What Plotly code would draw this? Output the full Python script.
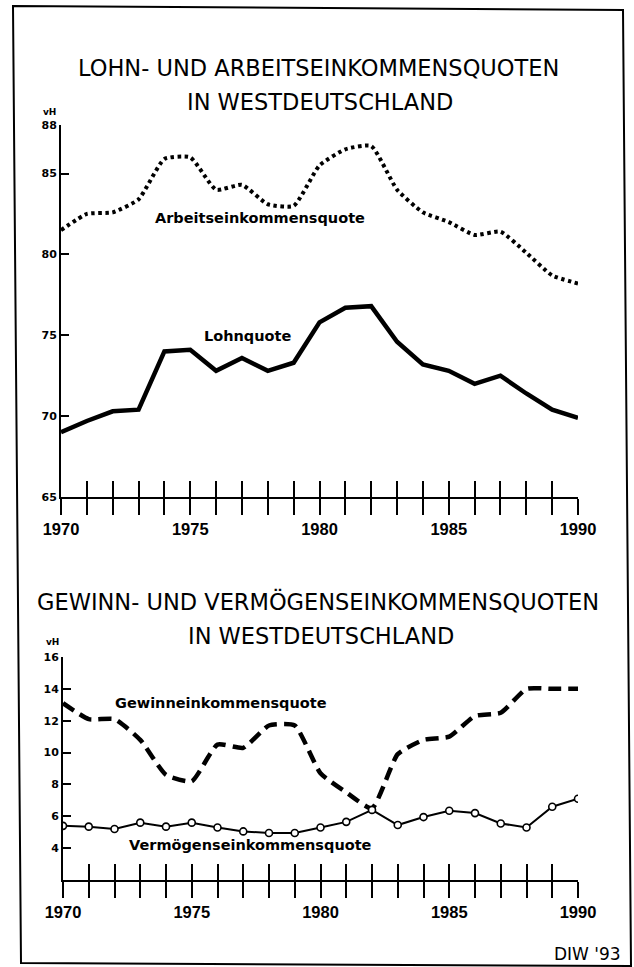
import plotly.graph_objects as go

# ---------------- data ----------------
years = list(range(1970, 1991))
x_labels = [str(y) if y % 5 == 0 else "" for y in years]

lohnquote = [69.0, 69.7, 70.3, 70.4, 74.0, 74.1, 72.8, 73.6, 72.8, 73.3,
             75.8, 76.7, 76.8, 74.6, 73.2, 72.8, 72.0, 72.5, 71.4, 70.4, 69.9]
arbeitseinkommensquote = [81.5, 82.5, 82.6, 83.4, 85.9, 86.0, 84.0, 84.3, 83.1, 83.0,
                          85.5, 86.5, 86.7, 84.0, 82.6, 82.0, 81.2, 81.4, 80.1, 78.7, 78.2]
gewinneinkommensquote = [13.1, 12.1, 12.1, 10.8, 8.6, 8.2, 10.5, 10.3, 11.7, 11.7,
                         8.7, 7.5, 6.5, 9.9, 10.8, 11.0, 12.3, 12.5, 14.0, 14.0, 14.0]
vermoegenseinkommensquote = [5.4, 5.35, 5.2, 5.6, 5.35, 5.6, 5.3, 5.05, 4.95, 4.95,
                             5.3, 5.65, 6.4, 5.45, 5.95, 6.35, 6.2, 5.55, 5.3, 6.6, 7.1]

top_yticks = [65, 70, 75, 80, 85, 88]
bottom_yticks = [4, 6, 8, 10, 12, 14, 16]

title_top = ["LOHN- UND ARBEITSEINKOMMENSQUOTEN", "IN WESTDEUTSCHLAND"]
title_bottom = ["GEWINN- UND VERMÖGENSEINKOMMENSQUOTEN", "IN WESTDEUTSCHLAND"]
unit_label = "vH"
source_label = "DIW '93"

# ---------------- layout helpers ----------------
W, H = 634, 967
def px(x):
    return x / W
def py(y):
    return 1 - y / H

BLACK = "black"
TICKFONT_X = dict(family="Liberation Sans, Arial, sans-serif",
                  size=16.5, color=BLACK, weight="bold")
TICKFONT_Y = dict(family="DejaVu Sans", size=11, color=BLACK, weight="bold")
LABELFONT = dict(family="DejaVu Sans", size=14.5, color=BLACK, weight="bold")
TITLEFONT = dict(family="DejaVu Sans", size=22.5, color=BLACK)

fig = go.Figure()

# top chart
fig.add_trace(go.Scatter(x=years, y=lohnquote, xaxis="x", yaxis="y", mode="lines",
                         line=dict(color=BLACK, width=4.5), hoverinfo="skip",
                         showlegend=False))
fig.add_trace(go.Scatter(x=years, y=arbeitseinkommensquote, xaxis="x3", yaxis="y",
                         mode="lines",
                         line=dict(color=BLACK, width=4, dash="3.5px,3.5px",
                                   shape="spline", smoothing=0.5),
                         hoverinfo="skip", showlegend=False))
# bottom chart
fig.add_trace(go.Scatter(x=years, y=gewinneinkommensquote, xaxis="x2", yaxis="y2",
                         mode="lines",
                         line=dict(color=BLACK, width=4.5, dash="13px,7px",
                                   shape="spline", smoothing=0.5),
                         hoverinfo="skip", showlegend=False))
fig.add_trace(go.Scatter(x=years, y=vermoegenseinkommensquote, xaxis="x4", yaxis="y2",
                         mode="lines+markers",
                         line=dict(color=BLACK, width=2),
                         marker=dict(symbol="circle", size=7, color="white",
                                     line=dict(color=BLACK, width=1.6)),
                         hoverinfo="skip", showlegend=False))

top_xdom = [px(61), px(578)]
bot_xdom = [px(63), px(578)]
top_ydom = [py(497), py(125)]
bot_ydom = [py(880), py(657)]

xbase = dict(range=[1970, 1990], tickvals=years, showgrid=False, zeroline=False,
             ticklen=16, tickwidth=2, tickcolor=BLACK, fixedrange=True)

fig.update_layout(
    width=W, height=H,
    margin=dict(l=0, r=0, t=0, b=0, autoexpand=False),
    paper_bgcolor="white", plot_bgcolor="rgba(0,0,0,0)",
    showlegend=False,
    xaxis=dict(**xbase, domain=top_xdom, anchor="y", ticks="outside",
               ticktext=x_labels, tickfont=TICKFONT_X,
               showline=True, linewidth=2, linecolor=BLACK),
    xaxis3=dict(**xbase, overlaying="x", anchor="y", side="bottom", ticks="inside",
                showticklabels=False, showline=False),
    xaxis2=dict(**xbase, domain=bot_xdom, anchor="y2", ticks="outside",
                ticktext=x_labels, tickfont=TICKFONT_X,
                showline=True, linewidth=2, linecolor=BLACK),
    xaxis4=dict(**xbase, overlaying="x2", anchor="y2", side="bottom", ticks="inside",
                showticklabels=False, showline=False),
    yaxis=dict(range=[65, 88], domain=top_ydom, anchor="x", tickvals=top_yticks,
               ticks="inside", ticklen=8, tickwidth=2, tickcolor=BLACK,
               showline=True, linewidth=2, linecolor=BLACK, showgrid=False,
               zeroline=False, tickfont=TICKFONT_Y, fixedrange=True),
    yaxis2=dict(range=[2, 16], domain=bot_ydom, anchor="x2", tickvals=bottom_yticks,
                ticks="inside", ticklen=8, tickwidth=2, tickcolor=BLACK,
                showline=True, linewidth=2, linecolor=BLACK, showgrid=False,
                zeroline=False, tickfont=TICKFONT_Y, fixedrange=True),
)

ann = []
# titles
ann.append(dict(text=title_top[0], x=px(318), y=py(68), xref="paper", yref="paper",
                showarrow=False, font=TITLEFONT, xanchor="center", yanchor="middle"))
ann.append(dict(text=title_top[1], x=px(320), y=py(102), xref="paper", yref="paper",
                showarrow=False, font=TITLEFONT, xanchor="center", yanchor="middle"))
ann.append(dict(text=title_bottom[0], x=px(318), y=py(601), xref="paper", yref="paper",
                showarrow=False, font=TITLEFONT, xanchor="center", yanchor="middle"))
ann.append(dict(text=title_bottom[1], x=px(321), y=py(636), xref="paper", yref="paper",
                showarrow=False, font=TITLEFONT, xanchor="center", yanchor="middle"))
# unit labels
ann.append(dict(text=unit_label, x=px(49), y=py(112), xref="paper", yref="paper",
                showarrow=False, font=dict(family="DejaVu Sans", size=9, color=BLACK,
                                           weight="bold"),
                xanchor="center", yanchor="middle"))
ann.append(dict(text=unit_label, x=px(52), y=py(642), xref="paper", yref="paper",
                showarrow=False, font=dict(family="DejaVu Sans", size=9, color=BLACK,
                                           weight="bold"),
                xanchor="center", yanchor="middle"))
# series labels
ann.append(dict(text="Arbeitseinkommensquote", x=1977.7, y=82.25, xref="x", yref="y",
                showarrow=False, font=LABELFONT, xanchor="center", yanchor="middle"))
ann.append(dict(text="Lohnquote", x=1977.2, y=74.95, xref="x", yref="y",
                showarrow=False, font=LABELFONT, xanchor="center", yanchor="middle"))
ann.append(dict(text="Gewinneinkommensquote", x=1976.15, y=13.1, xref="x2", yref="y2",
                showarrow=False, font=LABELFONT, xanchor="center", yanchor="middle"))
ann.append(dict(text="Vermögenseinkommensquote", x=1977.3, y=4.2, xref="x2", yref="y2",
                showarrow=False, font=LABELFONT, xanchor="center", yanchor="middle"))
# source
ann.append(dict(text=source_label, x=px(587), y=py(954), xref="paper", yref="paper",
                showarrow=False, font=dict(family="DejaVu Sans", size=17, color=BLACK),
                xanchor="center", yanchor="middle"))
fig.update_layout(annotations=ann)

# page frame
frame = "M {},{} L {},{} L {},{} L {},{} Z".format(
    px(13), py(6), px(623), py(10), px(631), py(966), px(21), py(963))
fig.add_shape(type="path", path=frame, xref="paper", yref="paper",
              line=dict(color=BLACK, width=2), fillcolor="rgba(0,0,0,0)")

fig.write_html("out.html",
               config={"displayModeBar": False},
               post_script="document.body.style.margin='0';"
                           "document.body.style.overflow='hidden';")
